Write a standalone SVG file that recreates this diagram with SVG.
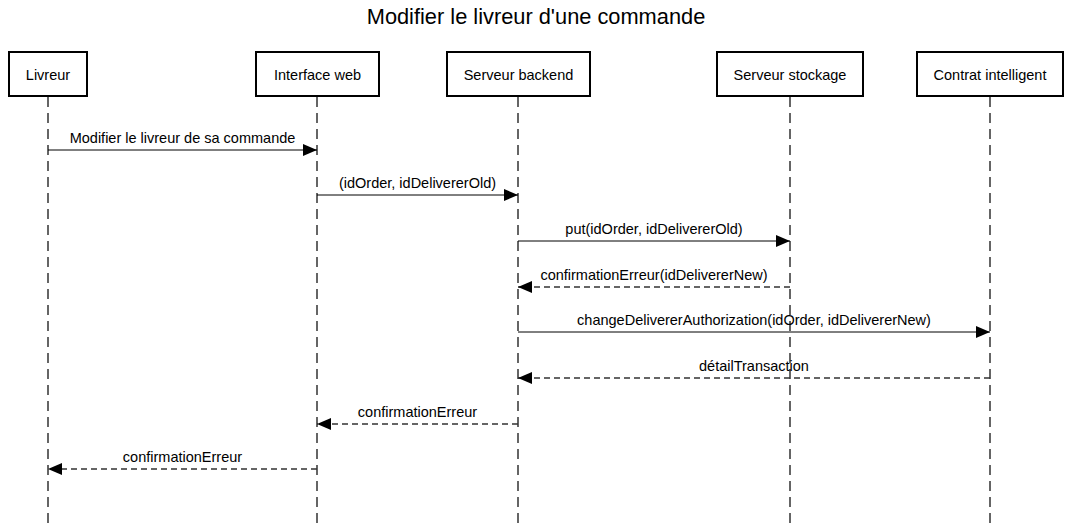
<svg xmlns="http://www.w3.org/2000/svg" width="1072" height="527" viewBox="0 0 1072 527">
<style>
  .box { fill: #ffffff; stroke: #000000; stroke-width: 2; }
  .lbl { font-family: "Liberation Sans", Arial, sans-serif; font-size: 14.5px; fill: #000000; text-anchor: middle; }
  .title { font-family: "Liberation Sans", Arial, sans-serif; font-size: 21.8px; fill: #000000; text-anchor: middle; }
  .life { stroke: #333333; stroke-width: 1.5; stroke-dasharray: 10,6; fill: none; }
  .msg { stroke: #000000; stroke-width: 1; fill: none; marker-end: url(#ah); }
  .ret { stroke: #333333; stroke-width: 1.5; stroke-dasharray: 6,4; fill: none; marker-end: url(#ah); }
</style>
<defs>
  <marker id="ah" viewBox="0 0 14 12" refX="14" refY="6" markerWidth="14" markerHeight="12" orient="auto" markerUnits="userSpaceOnUse">
    <path d="M0,0 L14,6 L0,12 z" fill="#000000"/>
  </marker>
</defs>
<rect width="1072" height="527" fill="#ffffff"/>
<text class="title" x="536" y="24">Modifier le livreur d'une commande</text>

<g id="lifelines">
  <line class="life" x1="48" y1="97" x2="48" y2="527"/>
  <line class="life" x1="317" y1="97" x2="317" y2="527"/>
  <line class="life" x1="518" y1="97" x2="518" y2="527"/>
  <line class="life" x1="790" y1="97" x2="790" y2="527"/>
  <line class="life" x1="990" y1="97" x2="990" y2="527"/>
</g>

<g id="livreur">
  <rect class="box" x="9" y="52" width="78" height="44"/>
  <text class="lbl" x="48" y="80">Livreur</text>
</g>
<g id="interface-web">
  <rect class="box" x="256" y="52" width="123" height="44"/>
  <text class="lbl" x="317.5" y="80">Interface web</text>
</g>
<g id="serveur-backend">
  <rect class="box" x="447" y="52" width="143" height="44"/>
  <text class="lbl" x="518.5" y="80">Serveur backend</text>
</g>
<g id="serveur-stockage">
  <rect class="box" x="717" y="52" width="146" height="44"/>
  <text class="lbl" x="790" y="80">Serveur stockage</text>
</g>
<g id="contrat-intelligent">
  <rect class="box" x="917" y="52" width="146" height="44"/>
  <text class="lbl" x="990" y="80">Contrat intelligent</text>
</g>

<g id="connectors">
  <line class="msg" x1="48" y1="150" x2="317" y2="150"/>
  <text class="lbl" x="182.5" y="143">Modifier le livreur de sa commande</text>

  <line class="msg" x1="317" y1="195" x2="518" y2="195"/>
  <text class="lbl" x="417.5" y="188">(idOrder, idDelivererOld)</text>

  <line class="msg" x1="518" y1="241" x2="790" y2="241"/>
  <text class="lbl" x="654" y="234">put(idOrder, idDelivererOld)</text>

  <line class="ret" x1="790" y1="287" x2="518" y2="287"/>
  <text class="lbl" x="654" y="280">confirmationErreur(idDelivererNew)</text>

  <line class="msg" x1="518" y1="332" x2="990" y2="332"/>
  <text class="lbl" x="754" y="325">changeDelivererAuthorization(idOrder, idDelivererNew)</text>

  <line class="ret" x1="990" y1="378" x2="518" y2="378"/>
  <text class="lbl" x="754" y="371">détailTransaction</text>

  <line class="ret" x1="518" y1="424" x2="317" y2="424"/>
  <text class="lbl" x="417.5" y="417">confirmationErreur</text>

  <line class="ret" x1="317" y1="469" x2="48" y2="469"/>
  <text class="lbl" x="182.5" y="462">confirmationErreur</text>
</g>
</svg>
